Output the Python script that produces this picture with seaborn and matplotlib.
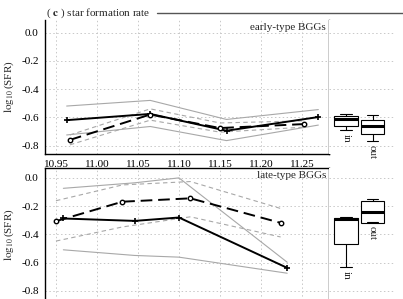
import numpy as np
import pandas as pd
import matplotlib
matplotlib.use('Agg')
import matplotlib.pyplot as plt
from matplotlib.lines import Line2D
import seaborn as sns

# early-type BGGs (top panel)
early_in_x = [10.963, 11.065, 11.158, 11.270]
early_in_y = [-0.620, -0.576, -0.695, -0.598]
early_in_hi = [-0.520, -0.480, -0.615, -0.545]
early_in_lo = [-0.725, -0.665, -0.765, -0.655]

early_out_x = [10.967, 11.065, 11.150, 11.252]
early_out_y = [-0.760, -0.580, -0.676, -0.648]
early_out_hi = [-0.725, -0.540, -0.640, -0.625]
early_out_lo = [-0.795, -0.620, -0.705, -0.670]

# late-type BGGs (bottom panel)
late_in_x = [10.959, 11.046, 11.100, 11.232]
late_in_y = [-0.288, -0.305, -0.281, -0.638]
late_in_hi = [-0.074, -0.035, 0.000, -0.598]
late_in_lo = [-0.510, -0.550, -0.562, -0.676]

late_out_x = [10.950, 11.031, 11.114, 11.224]
late_out_y = [-0.307, -0.169, -0.145, -0.319]
late_out_hi = [-0.162, -0.050, -0.026, -0.217]
late_out_lo = [-0.448, -0.348, -0.276, -0.419]

# box summaries: whislo, q1, med, q3, whishi
box_labels = ['in', 'out']
early_boxes = [[-0.691, -0.659, -0.609, -0.593, -0.574],
               [-0.766, -0.716, -0.659, -0.617, -0.586]]
late_boxes = [[-0.634, -0.466, -0.295, -0.284, -0.280],
              [-0.315, -0.319, -0.241, -0.162, -0.148]]

x_ticks = [10.95, 11.00, 11.05, 11.10, 11.15, 11.20, 11.25]
y_ticks = [0.0, -0.2, -0.4, -0.6, -0.8]

sns.set_style('white')
plt.rcParams['font.family'] = ['Liberation Serif', 'DejaVu Serif']
plt.rcParams['mathtext.fontset'] = 'stix'

W, H = 403, 299
fig = plt.figure(figsize=(W / 100, H / 100), dpi=100)

grid_kw = dict(color='#c8c8c8', linestyle=(0, (1.5, 2.5)), linewidth=0.7)


def px(x0, y0, x1, y1):
    return [x0 / W, 1 - y1 / H, (x1 - x0) / W, (y1 - y0) / H]


def draw_panel(ax, xin, yin, hin, lin, xout, yout, hout, lout, label, ylim):
    gray = '#a8a8a8'
    for yy in (hin, lin):
        sns.lineplot(x=xin, y=yy, ax=ax, color=gray, linewidth=0.8)
    for yy in (hout, lout):
        sns.lineplot(x=xout, y=yy, ax=ax, color=gray, linewidth=0.8,
                     linestyle=(0, (4, 3)))
    sns.lineplot(x=xin, y=yin, ax=ax, color='black', linewidth=1.4,
                 marker='+', markersize=5, markeredgewidth=1.2,
                 markeredgecolor='black')
    sns.lineplot(x=xout, y=yout, ax=ax, color='black', linewidth=1.4,
                 linestyle=(0, (6, 3)), marker='o', markersize=3.2,
                 markerfacecolor='white', markeredgecolor='black',
                 markeredgewidth=1.0)
    ax.set_xlim(10.9366, 11.283)
    ax.set_ylim(*ylim)
    ax.set_xticks(x_ticks)
    ax.set_yticks(y_ticks)
    ax.set_yticklabels([f'{v:.1f}' for v in y_ticks])
    ax.grid(True, **grid_kw)
    ax.tick_params(axis='both', direction='out', length=3, width=0.8,
                   labelsize=8, pad=1.5, colors='black')
    for s in ax.spines.values():
        s.set_color('black')
        s.set_linewidth(1.0)
    ax.set_ylabel(r'$\log_{10}$(SFR)', fontsize=8, labelpad=4)
    ax.text(0.99, 0.975, label, transform=ax.transAxes, ha='right',
            va='top', fontsize=8)


def draw_boxes(bax, boxes, ylim):
    stats = []
    for name, b in zip(box_labels, boxes):
        stats.append(dict(label=name, whislo=b[0], q1=b[1], med=b[2],
                          q3=b[3], whishi=b[4], fliers=[]))
    bax.bxp(stats, positions=[1, 2], widths=0.87, showfliers=False,
            patch_artist=True,
            boxprops=dict(facecolor='white', edgecolor='black', linewidth=0.8),
            medianprops=dict(color='black', linewidth=2.2),
            whiskerprops=dict(color='black', linewidth=0.8, linestyle='-'),
            capprops=dict(color='black', linewidth=0.8))
    bax.set_xlim(0.358, 2.849)
    bax.set_ylim(*ylim)
    bax.set_yticks(y_ticks)
    bax.set_xticks([])
    bax.grid(True, axis='y', **grid_kw)
    bax.tick_params(left=False, labelleft=False, bottom=False,
                    labelbottom=False)
    for s in bax.spines.values():
        s.set_visible(False)
    for i, (name, b) in enumerate(zip(box_labels, boxes)):
        bax.annotate(name, xy=(i + 1, b[0]), xytext=(0, -3),
                     textcoords='offset points', ha='center', va='top',
                     rotation=270, fontsize=8, annotation_clip=False)


top_ylim = (-0.86, 0.09)
bot_ylim = (-0.88, 0.07)

ax1 = fig.add_axes(px(45, 20, 329, 154))
draw_panel(ax1, early_in_x, early_in_y, early_in_hi, early_in_lo,
           early_out_x, early_out_y, early_out_hi, early_out_lo,
           'early-type BGGs', top_ylim)
ax1.spines['top'].set_visible(False)
ax1.set_xticklabels([f'{v:.2f}' for v in x_ticks])

ax2 = fig.add_axes(px(45, 168, 329, 302))
draw_panel(ax2, late_in_x, late_in_y, late_in_hi, late_in_lo,
           late_out_x, late_out_y, late_out_hi, late_out_lo,
           'late-type BGGs', bot_ylim)
ax2.tick_params(axis='x', labelbottom=False)

bax1 = fig.add_axes(px(329, 20, 395, 154))
draw_boxes(bax1, early_boxes, top_ylim)
bax2 = fig.add_axes(px(329, 168, 395, 302))
draw_boxes(bax2, late_boxes, bot_ylim)

# panel title with rule to the right
fig.text(46 / W, 1 - 13 / H, r'( $\mathbf{c}$ ) star formation rate',
         ha='left', va='center', fontsize=8)
fig.add_artist(Line2D([157 / W, 1.0], [1 - 13 / H, 1 - 13 / H],
                      transform=fig.transFigure, color='#555555',
                      linewidth=1.0))

fig.savefig('out.png', dpi=100)
